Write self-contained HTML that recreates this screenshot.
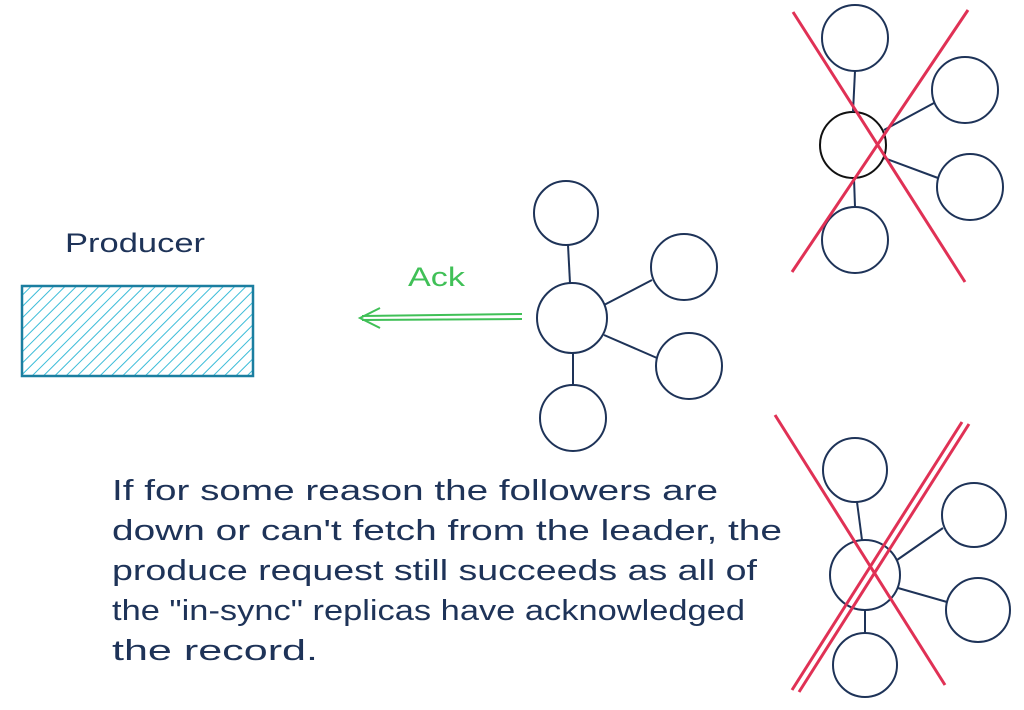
<!DOCTYPE html>
<html><head><meta charset="utf-8"><style>
html,body{margin:0;padding:0;background:#fff;width:1024px;height:710px;overflow:hidden}
svg{position:absolute;left:0;top:0}
.t{font-family:"Liberation Sans",sans-serif;fill:#1e3358}
</style></head><body>
<svg width="1024" height="710" viewBox="0 0 1024 710">
<defs>
<pattern id="h" width="8" height="8" patternUnits="userSpaceOnUse" patternTransform="rotate(45)">
<line x1="0" y1="0" x2="0" y2="8" stroke="#3bbcd8" stroke-width="2"/>
</pattern>
</defs>
<rect x="22" y="286" width="231" height="90" fill="url(#h)" stroke="#1b7ea0" stroke-width="2.5"/>
<text class="t" x="65" y="252" font-size="27" textLength="140" lengthAdjust="spacingAndGlyphs">Producer</text>
<text x="408" y="286" font-size="27" fill="#40c057" font-family="Liberation Sans,sans-serif" textLength="57" lengthAdjust="spacingAndGlyphs">Ack</text>
<g stroke="#40c057" stroke-width="2" fill="none">
<line x1="522" y1="314" x2="362" y2="316"/><line x1="522" y1="319" x2="362" y2="320"/>
<polyline points="380,308 360,318 380,328"/>
</g>
<g stroke="#1e3358" stroke-width="2" fill="none">
<circle cx="566" cy="213" r="32"/><circle cx="572" cy="318" r="35"/>
<circle cx="684" cy="267" r="33"/><circle cx="689" cy="366" r="33"/><circle cx="573" cy="418" r="33"/>
<line x1="568" y1="245" x2="570" y2="283"/><line x1="604" y1="305" x2="652" y2="280"/>
<line x1="604" y1="335" x2="657" y2="358"/><line x1="573" y1="353" x2="573" y2="385"/>
<circle cx="855" cy="38" r="33"/><circle cx="853" cy="145" r="33" stroke="#111"/>
<circle cx="965" cy="90" r="33"/><circle cx="970" cy="187" r="33"/><circle cx="855" cy="240" r="33"/>
<line x1="855" y1="71" x2="853" y2="112"/><line x1="884" y1="130" x2="934" y2="103"/>
<line x1="884" y1="158" x2="938" y2="178"/><line x1="854" y1="178" x2="855" y2="207"/>
<circle cx="855" cy="470" r="32"/><circle cx="865" cy="575" r="35"/>
<circle cx="974" cy="515" r="32"/><circle cx="978" cy="610" r="32"/><circle cx="865" cy="665" r="32"/>
<line x1="857" y1="502" x2="862" y2="540"/><line x1="897" y1="560" x2="943" y2="528"/>
<line x1="898" y1="588" x2="947" y2="602"/><line x1="865" y1="610" x2="865" y2="633"/>
</g>
<g stroke="#e03155" stroke-width="3" fill="none">
<line x1="793" y1="12" x2="965" y2="282"/><line x1="968" y1="10" x2="792" y2="272"/>
<line x1="775" y1="415" x2="945" y2="685"/>
<line x1="962" y1="422" x2="792" y2="690"/><line x1="969" y1="424" x2="799" y2="692"/>
</g>
<g class="t" font-size="29">
<text x="112" y="500" textLength="606" lengthAdjust="spacingAndGlyphs">If for some reason the followers are</text>
<text x="112" y="540" textLength="670" lengthAdjust="spacingAndGlyphs">down or can't fetch from the leader, the</text>
<text x="112" y="580" textLength="645" lengthAdjust="spacingAndGlyphs">produce request still succeeds as all of</text>
<text x="112" y="620" textLength="633" lengthAdjust="spacingAndGlyphs">the "in-sync" replicas have acknowledged</text>
<text x="112" y="660" textLength="206" lengthAdjust="spacingAndGlyphs">the record.</text>
</g>
</svg>
</body></html>
